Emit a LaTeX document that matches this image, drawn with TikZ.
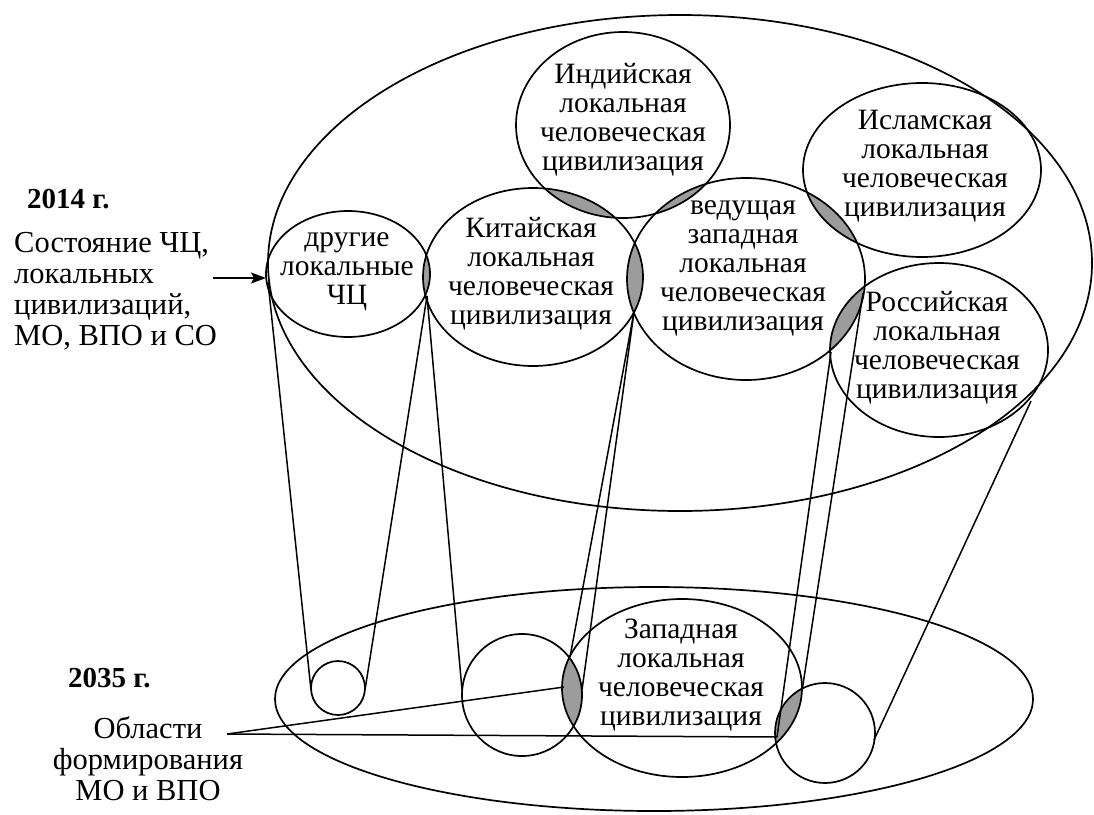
\documentclass[tikz,border=0pt]{standalone}
\usepackage{fontspec}
\setmainfont{Liberation Serif}
\usetikzlibrary{arrows.meta}
\begin{document}
\begin{tikzpicture}[x=1pt,y=-1pt,
  ring/.style={draw=black, line width=1.7pt},
  link/.style={draw=black, line width=1.5pt},
  lens/.style={fill=gray!78},
  lbl/.style={align=center, inner sep=0pt, font=\fontsize{29.5}{29}\selectfont},
  side/.style={inner sep=0pt, font=\fontsize{30.5}{31}\selectfont},
  year/.style={inner sep=0pt, font=\fontsize{29}{30}\selectfont\bfseries},
  pBig/.style={insert path={(680,263) ellipse [x radius=412, y radius=248]}},
  pDr/.style={insert path={(348,274) ellipse [x radius=82, y radius=63]}},
  pKit/.style={insert path={(533,277) ellipse [x radius=110, y radius=89]}},
  pInd/.style={insert path={(623,125) ellipse [x radius=107, y radius=93]}},
  pVed/.style={insert path={(746,279) ellipse [x radius=119, y radius=101]}},
  pIsl/.style={insert path={(922,170) ellipse [x radius=119, y radius=87]}},
  pRos/.style={insert path={(939,350) ellipse [x radius=109, y radius=87]}},
  pLow/.style={insert path={(654,699) ellipse [x radius=379, y radius=112]}},
  pDrB/.style={insert path={(338,688) ellipse [x radius=27, y radius=27]}},
  pKitB/.style={insert path={(522,695) ellipse [x radius=60, y radius=61]}},
  pZap/.style={insert path={(682,688) ellipse [x radius=120, y radius=89]}},
  pRosB/.style={insert path={(825,733) ellipse [x radius=50, y radius=50]}},
]
\useasboundingbox (0,0) rectangle (1094,814);

% shaded intersections
\begin{scope}\clip[pDr]; \fill[lens,pKit];\end{scope}
\begin{scope}\clip[pKit]; \fill[lens,pVed];\end{scope}
\begin{scope}\clip[pInd]; \fill[lens,pKit];\end{scope}
\begin{scope}\clip[pInd]; \fill[lens,pVed];\end{scope}
\begin{scope}\clip[pVed]; \fill[lens,pIsl];\end{scope}
\begin{scope}\clip[pVed]; \fill[lens,pRos];\end{scope}
\begin{scope}\clip[pKitB]; \fill[lens,pZap];\end{scope}
\begin{scope}\clip[pZap]; \fill[lens,pRosB];\end{scope}

% outlines
\path[ring,pBig];
\path[ring,pDr];
\path[ring,pKit];
\path[ring,pInd];
\path[ring,pVed];
\path[ring,pIsl];
\path[ring,pRos];
\path[ring,pLow];
\path[ring,pDrB];
\path[ring,pKitB];
\path[ring,pZap];
\path[ring,pRosB];

% connector end points
\coordinate (dTL) at (268,282);
\coordinate (dBL) at (311,690);
\coordinate (dkX) at (427,296);
\coordinate (dBR) at (365,690);
\coordinate (kBL) at (462,690);
\coordinate (kvX) at (634,312);
\coordinate (lensT) at (570,657);
\coordinate (kBR) at (582,690);
\coordinate (vrLo) at (831,352);
\coordinate (vrUp) at (863,293);
\coordinate (zrB) at (777,737);
\coordinate (zR) at (802,691);
\coordinate (rBig) at (1031,401);
\coordinate (rbR) at (874,740);
\coordinate (oblS) at (227,734);
\coordinate (lensL) at (564,687);
\coordinate (arS) at (213,278);
\coordinate (arE) at (266,278);

\path[link] (dTL) -- (dBL);
\path[link] (dkX) -- (dBR);
\path[link] (dkX) -- (kBL);
\path[link] (kvX) -- (lensT);
\path[link] (kvX) -- (kBR);
\path[link] (vrLo) -- (zrB);
\path[link] (vrUp) -- (zR);
\path[link] (rBig) -- (rbR);
\path[link] (oblS) -- (lensL);
\path[link] (oblS) -- (zrB);
\draw[line width=1.5pt,-{Stealth[length=15pt,width=11pt,inset=3pt]}] (arS) -- (arE);

% texts
\node[lbl] (tDr) at (347,272) {другие\\локальные\\ЧЦ};
\node[lbl] (tKit) at (531,274) {Китайская\\локальная\\человеческая\\цивилизация};
\node[lbl] (tInd) at (623,120) {Индийская\\локальная\\человеческая\\цивилизация};
\node[lbl] (tVed) at (743,268) {ведущая\\западная\\локальная\\человеческая\\цивилизация};
\node[lbl] (tIsl) at (925,166) {Исламская\\локальная\\человеческая\\цивилизация};
\node[lbl] (tRos) at (937,348) {Российская\\локальная\\человеческая\\цивилизация};
\node[lbl] (tZap) at (681,675) {Западная\\локальная\\человеческая\\цивилизация};

\node[year, anchor=base west] (y14) at (27,208) {2014 г.};
\node[year, anchor=base west] (y35) at (68,687) {2035 г.};
\node[side, align=left, anchor=west] (tState) at (14,291) {Состояние ЧЦ,\\локальных\\цивилизаций,\\МО, ВПО и СО};
\node[side, align=center] (tObl) at (148,759) {Области\\формирования\\МО и ВПО};
\end{tikzpicture}
\end{document}
